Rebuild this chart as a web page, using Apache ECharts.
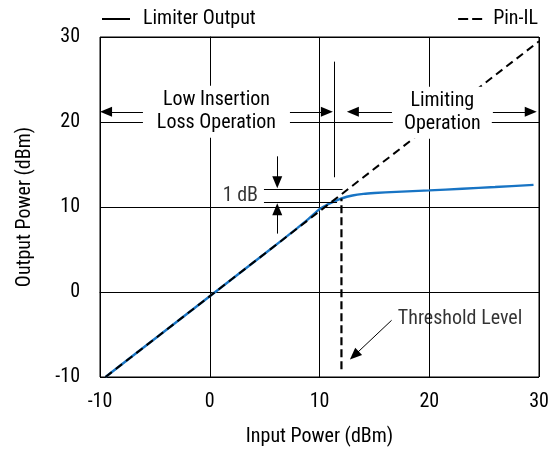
<!DOCTYPE html>
<html><head><meta charset="utf-8">
<script src="https://cdn.jsdelivr.net/npm/echarts@6/dist/echarts.min.js"></script>
<style>html,body{margin:0;padding:0;background:#fff}#c{width:559px;height:456px}</style>
</head><body><div id="c"></div>
<script>
const FONT = "'Liberation Sans Narrow','Roboto Condensed','DejaVu Sans Condensed',sans-serif";
const FS = 20;
// axis
const axisMin = -10, axisMax = 30, axisStep = 10;
// Limiter Output (blue)
const limiterIn  = [-9.5, -5, 0, 5, 8, 9, 10, 10.6, 11.25, 12, 13, 14, 15, 17, 20, 23, 26, 29.5];
const limiterOut = [-10, -5.5, -0.5, 4.5, 7.55, 8.6, 9.75, 10.2, 10.6, 11.0, 11.35, 11.55, 11.65, 11.78, 11.95, 12.15, 12.35, 12.6];
// Pin-IL (dashed)
const pinIlIn  = [-9.5, 30];
const pinIlOut = [-10, 29.5];
// Threshold vertical (dashed)
const thresholdIn  = [12, 12];
const thresholdOut = [-9.1, 11.0];
// plain annotation lines [[x1,y1],[x2,y2]]
const guideLines = [
  [[11.35, 13.5], [11.35, 27.1]],
  [[4.94, 12.05], [12.1, 12.05]],
  [[4.94, 10.59], [11.6, 10.59]]
];
// arrows: tail -> head
const arrows = [
  [[-5.9, 21.2], [-9.45, 21.2]],
  [[7.12, 21.2], [10.67, 21.2]],
  [[16.6, 21.2], [13.04, 21.2]],
  [[25.8, 21.2], [29.25, 21.2]],
  [[6.15, 15.96], [6.15, 12.9]],
  [[6.15, 6.87], [6.15, 9.73]],
  [[16.57, -3.33], [13.17, -7.47]]
];
// boxed text labels
const boxTexts = ['Low Insertion\nLoss Operation', 'Limiting\nOperation'];
const boxPos = [[0.61, 21.2], [21.19, 21.1]];
const boxW = [147, 99];
const boxH = [52, 52];
// free text labels
const noteTexts = ['1 dB', 'Threshold Level'];
const notePos = [[4.4, 11.35], [17.14, -3.13]];
const noteAlign = ['right', 'left'];

const zip = (a, b) => a.map((v, i) => [v, b[i]]);
const chart = echarts.init(document.getElementById('c'));

const markData = guideLines.map(s => [{coord: s[0], symbol: 'none'}, {coord: s[1], symbol: 'none'}])
  .concat(arrows.map(s => [{coord: s[0], symbol: 'none'}, {coord: s[1], symbol: 'triangle', symbolSize: [10, 12]}]));

chart.setOption({
  animation: false,
  textStyle: {fontFamily: FONT},
  grid: {left: 100, right: 20, top: 37, bottom: 79, show: true, borderColor: '#000', borderWidth: 1},
  legend: [
    {left: 102, top: 9, padding: 0, itemWidth: 28, itemHeight: 2, selectedMode: false,
     textStyle: {fontFamily: FONT, fontSize: FS, color: '#000', padding: [0, 0, 0, 8]},
     data: [{name: 'Limiter Output', icon: 'rect', itemStyle: {color: '#000'}}]},
    {right: 21, top: 9, padding: 0, itemWidth: 24, itemHeight: 2, selectedMode: false,
     textStyle: {fontFamily: FONT, fontSize: FS, color: '#000', padding: [0, 0, 0, 6]},
     data: [{name: 'Pin-IL', icon: 'path://M0,0H10V2H0Z M14,0H24V2H14Z', itemStyle: {color: '#000'}}]}
  ],
  xAxis: {
    type: 'value', min: axisMin, max: axisMax, interval: axisStep,
    name: 'Input Power (dBm)', nameLocation: 'middle', nameGap: 50,
    nameTextStyle: {fontFamily: FONT, fontSize: FS, color: '#000'},
    axisLine: {show: true, lineStyle: {color: '#000', width: 1}},
    axisTick: {show: false},
    axisLabel: {fontFamily: FONT, fontSize: FS, color: '#000', margin: 15},
    splitLine: {show: true, lineStyle: {color: '#000', width: 1}}
  },
  yAxis: {
    type: 'value', min: axisMin, max: axisMax, interval: axisStep,
    name: 'Output Power (dBm)', nameLocation: 'middle', nameGap: 65,
    nameTextStyle: {fontFamily: FONT, fontSize: FS, color: '#000'},
    axisLine: {show: true, lineStyle: {color: '#000', width: 1}},
    axisTick: {show: false},
    axisLabel: {fontFamily: FONT, fontSize: FS, color: '#000', margin: 20},
    splitLine: {show: true, lineStyle: {color: '#000', width: 1}}
  },
  series: [
    {name: 'Limiter Output', type: 'line', data: zip(limiterIn, limiterOut), symbol: 'none', smooth: 0.3,
     z: 2, lineStyle: {color: '#1874c4', width: 2.4}, itemStyle: {color: '#1874c4'}},
    {name: 'Pin-IL', type: 'line', data: zip(pinIlIn, pinIlOut), symbol: 'none',
     z: 3, lineStyle: {color: '#000', width: 2, type: [8, 5]}, itemStyle: {color: '#000'},
     markLine: {silent: true, animation: false, label: {show: false}, symbol: 'none',
       lineStyle: {color: '#000', width: 1, type: 'solid'}, emphasis: {disabled: true}, data: markData}},
    {name: 'threshold', type: 'line', data: zip(thresholdIn, thresholdOut), symbol: 'none',
     z: 3, lineStyle: {color: '#000', width: 2.2, type: [8, 4]}},
    {name: 'boxes', type: 'custom', z: 10, silent: true, data: boxPos,
     renderItem: function (params, api) {
       const i = params.dataIndex;
       const p = api.coord([api.value(0), api.value(1)]);
       const w = boxW[i], h = boxH[i];
       return {type: 'group', children: [
         {type: 'rect', shape: {x: p[0] - w / 2, y: p[1] - h / 2, width: w, height: h}, style: {fill: '#fff'}},
         {type: 'text', x: p[0], y: p[1], style: {text: boxTexts[i], align: 'center', verticalAlign: 'middle',
           textAlign: 'center', textVerticalAlign: 'middle', lineHeight: 23, fontSize: FS, fontFamily: FONT, fill: '#000'}}
       ]};
     }},
    {name: 'notes', type: 'scatter', z: 10, symbolSize: 0, silent: true,
     data: notePos.map((p, i) => ({value: p, label: {formatter: noteTexts[i], align: noteAlign[i]}})),
     label: {show: true, position: 'inside', verticalAlign: 'middle', fontFamily: FONT, fontSize: FS, color: '#000'}}
  ]
});
</script></body></html>
